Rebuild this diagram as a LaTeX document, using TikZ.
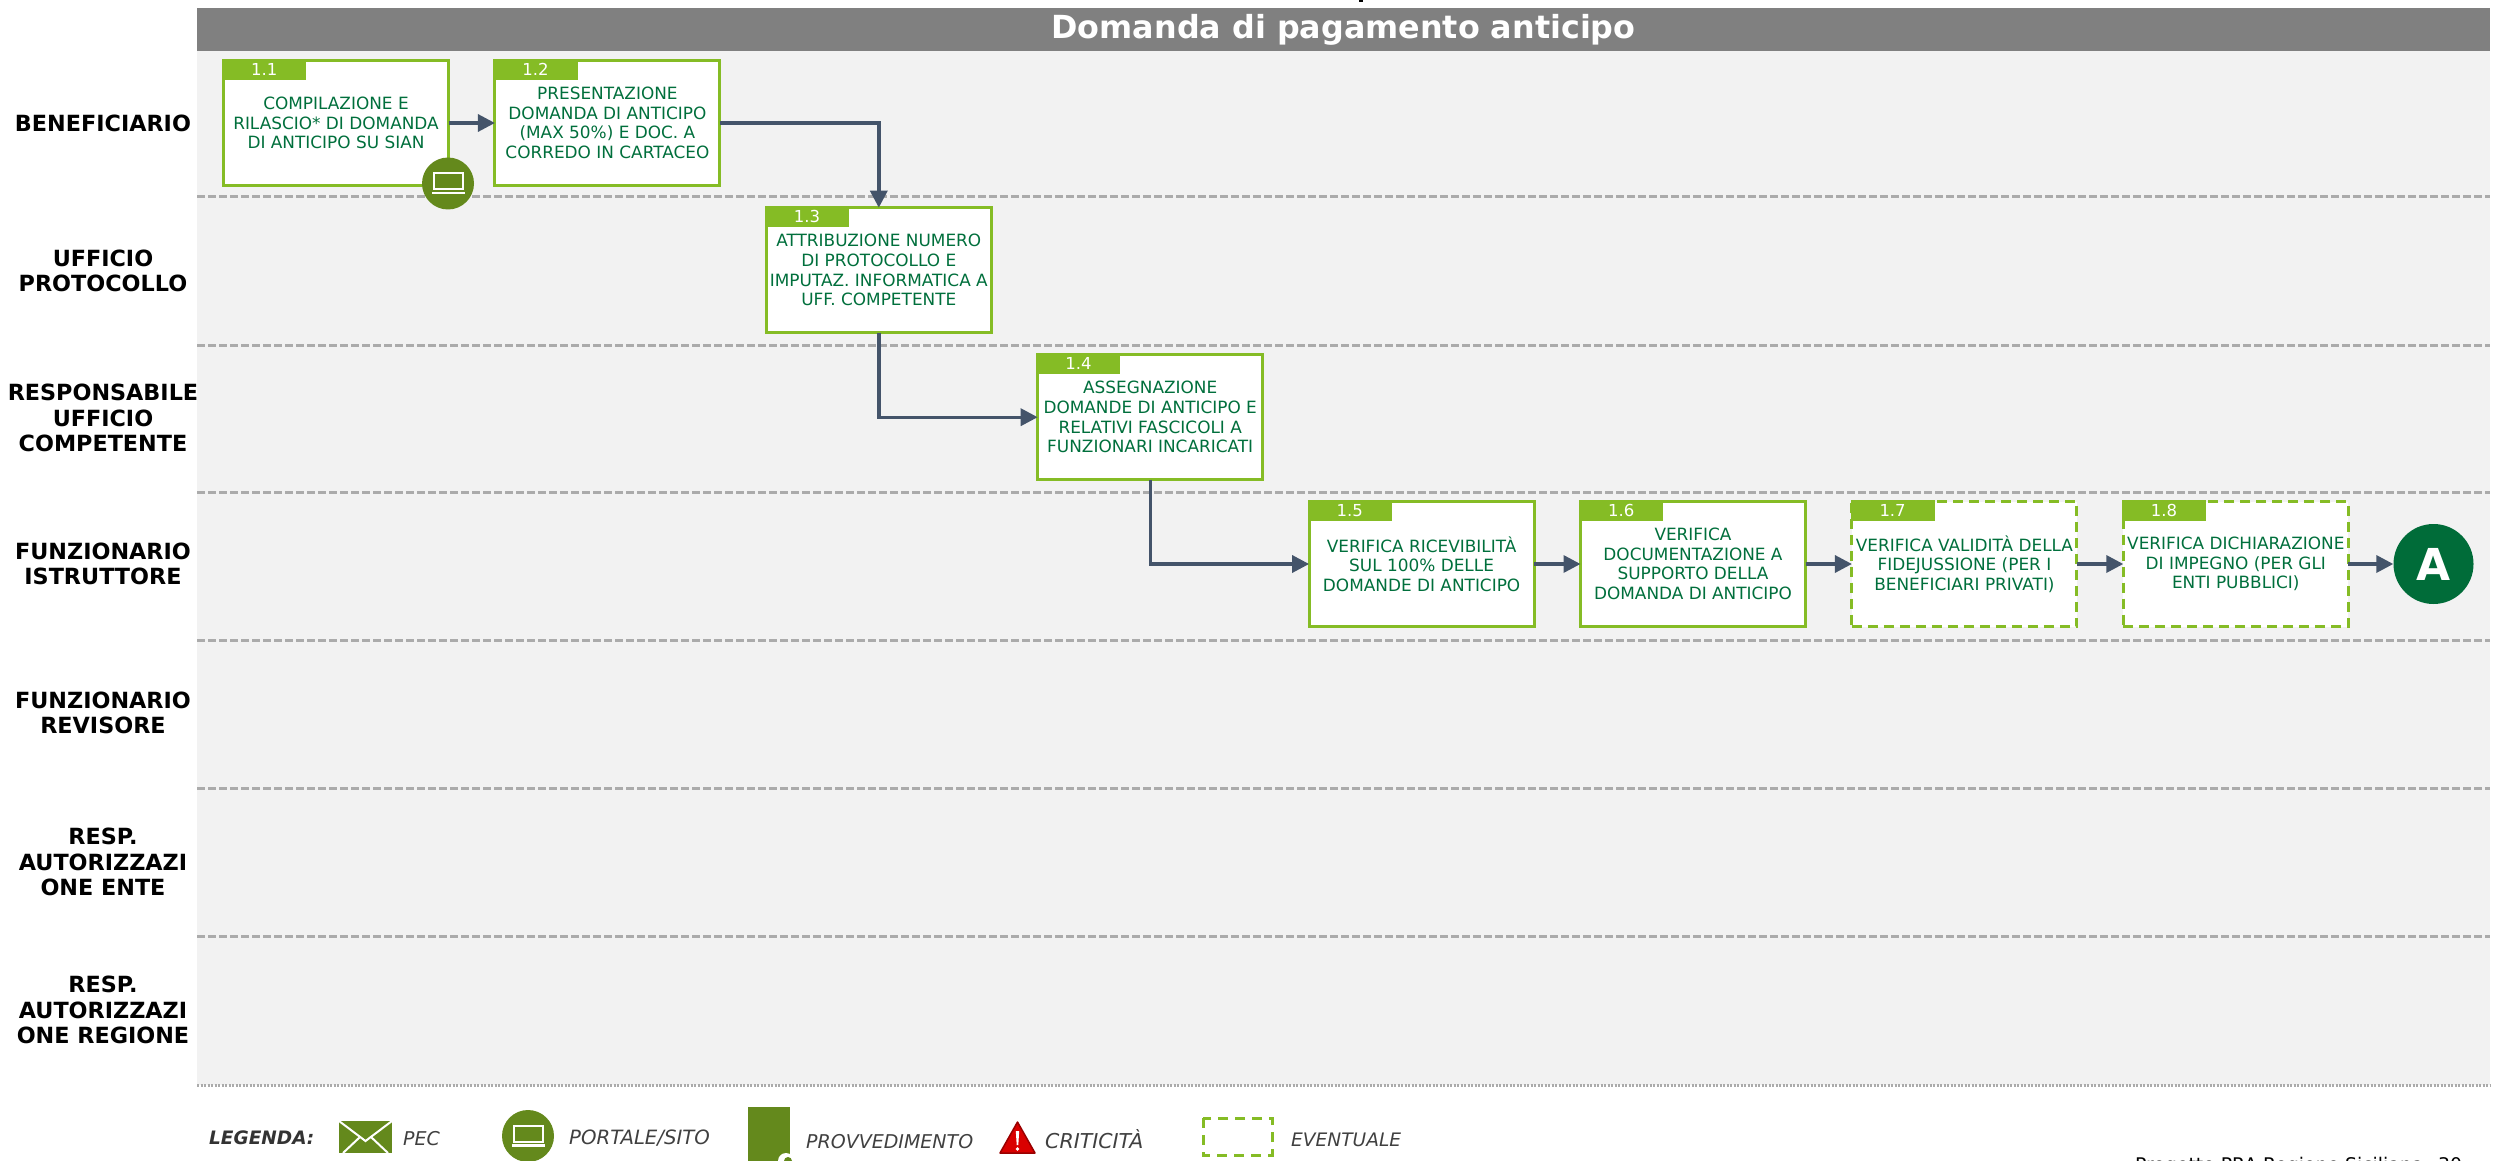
\documentclass[tikz,border=0pt]{standalone}
\usepackage{fontspec}
\setmainfont{DejaVu Sans}
\usetikzlibrary{arrows.meta,positioning,calc}
\definecolor{boxgreen}{HTML}{85BC25}
\definecolor{textgreen}{HTML}{006F3C}
\definecolor{darkgreen}{HTML}{006C39}
\definecolor{badgegreen}{HTML}{64891C}
\definecolor{arrowblue}{HTML}{44546A}
\definecolor{lanegrey}{HTML}{F2F2F2}
\definecolor{dashgrey}{HTML}{ABABAB}
\tikzset{
	step box/.style={
		rectangle, minimum width=225pt, minimum height=125pt, inner sep=0pt, outer sep=0pt,
		line width=3pt, draw=boxgreen, fill=white, text=textgreen, align=center,
		font=\fontsize{16.9}{19.6}\selectfont
	},
	%
	maybe box/.style={
		step box, dash pattern=on 10pt off 6pt
	},
	%
	tagbox/.style={
		rectangle, anchor=north west, minimum width=84pt, minimum height=21pt, inner sep=0pt,
		fill=boxgreen, text=white, font=\fontsize{16.5}{16.5}\selectfont
	},
	%
	lane/.style={
		align=center, inner sep=0pt, font=\fontsize{22.3}{25.4}\selectfont\bfseries
	},
	%
	divider/.style={
		draw=dashgrey, line width=3pt, dash pattern=on 8pt off 3pt
	},
	%
	flow/.style={
		draw=arrowblue, line width=3.4pt, -{Triangle[length=17pt,width=17pt]}
	},
	%
	badge/.style={
		circle, minimum size=52pt, inner sep=0pt, fill=badgegreen
	},
	%
	legendtext/.style={
		anchor=west, inner sep=0pt, text=black!75, font=\fontsize{19}{19}\selectfont\itshape
	},
	%
	laptop/.pic={
		\draw[white, line width=2pt] (-14,-10.5) rectangle (15,5.5);
		\draw[white, line width=2.2pt] (-16,9.5) -- (17,9.5);
	}
}
\begin{document}
\begin{tikzpicture}[x=1pt,y=-1pt]
    \useasboundingbox (0,0) rectangle (2503,1161);
    \clip (0,0) rectangle (2503,1161);
    % lanes
    \fill[lanegrey] (197,51) rectangle (2490,1085);
    \node(title)[rectangle, minimum width=2293pt, minimum height=43pt, inner sep=0pt, fill=black!50, text=white, font=\fontsize{31.8}{31.8}\selectfont\bfseries] at (1343.5,29.5){Domanda di pagamento anticipo};
    \fill[black] (1359,0) rectangle (1363,2);
    \draw[divider] (197,197) -- (2490,197);
    \draw[divider] (197,345) -- (2490,345);
    \draw[divider] (197,492) -- (2490,492);
    \draw[divider] (197,640) -- (2490,640);
    \draw[divider] (197,788) -- (2490,788);
    \draw[divider] (197,936) -- (2490,936);
    \draw[draw=dashgrey, line width=3pt, dash pattern=on 2pt off 1.5pt] (197,1085) -- (2490,1085);
    \node(benef)[lane] at (103,123){BENEFICIARIO};
    \node(proto)[lane] at (103,271){UFFICIO\\ PROTOCOLLO};
    \node(resp)[lane] at (103,418){RESPONSABILE\\ UFFICIO\\ COMPETENTE};
    \node(funz)[lane] at (103,564){FUNZIONARIO\\ ISTRUTTORE};
    \node(rev)[lane] at (103,713){FUNZIONARIO\\ REVISORE};
    \node(autE)[lane] at (103,862){RESP.\\ AUTORIZZAZI\\ ONE ENTE};
    \node(autR)[lane] at (103,1010){RESP.\\ AUTORIZZAZI\\ ONE REGIONE};
    % steps
    \node(comp)[step box] at (336,123){COMPILAZIONE E\\ RILASCIO* DI DOMANDA\\ DI ANTICIPO SU SIAN};
    \node(pres)[step box, right=46.4pt of comp]{PRESENTAZIONE\\ DOMANDA DI ANTICIPO\\ (MAX 50\%) E DOC. A\\ CORREDO IN CARTACEO};
    \node(attr)[step box, below right=22.2pt and 46.4pt of pres]{ATTRIBUZIONE NUMERO\\ DI PROTOCOLLO E\\ IMPUTAZ. INFORMATICA A\\ UFF. COMPETENTE};
    \node(asse)[step box, below right=22pt and 46.4pt of attr]{ASSEGNAZIONE\\ DOMANDE DI ANTICIPO E\\ RELATIVI FASCICOLI A\\ FUNZIONARI INCARICATI};
    \node(rice)[step box, below right=21.8pt and 46.4pt of asse]{VERIFICA RICEVIBILITÀ\\ SUL 100\% DELLE\\ DOMANDE DI ANTICIPO};
    \node(docu)[step box, right=46.4pt of rice]{VERIFICA\\ DOCUMENTAZIONE A\\ SUPPORTO DELLA\\ DOMANDA DI ANTICIPO};
    \node(fide)[maybe box, right=46.4pt of docu]{VERIFICA VALIDITÀ DELLA\\ FIDEJUSSIONE (PER I\\ BENEFICIARI PRIVATI)};
    \node(impe)[maybe box, right=46.4pt of fide]{VERIFICA DICHIARAZIONE\\ DI IMPEGNO (PER GLI\\ ENTI PUBBLICI)};
    \node(endA)[circle, minimum size=80pt, inner sep=0pt, fill=darkgreen, text=white, font=\fontsize{44}{44}\selectfont\bfseries, right=45pt of impe]{A};
    % tags
    \node(tag1)[tagbox] at ([shift={(-1.5pt,1.5pt)}]comp.north west){1.1};
    \node(tag2)[tagbox] at ([shift={(-1.5pt,1.5pt)}]pres.north west){1.2};
    \node(tag3)[tagbox] at ([shift={(-1.5pt,1.5pt)}]attr.north west){1.3};
    \node(tag4)[tagbox] at ([shift={(-1.5pt,1.5pt)}]asse.north west){1.4};
    \node(tag5)[tagbox] at ([shift={(-1.5pt,1.5pt)}]rice.north west){1.5};
    \node(tag6)[tagbox] at ([shift={(-1.5pt,1.5pt)}]docu.north west){1.6};
    \node(tag7)[tagbox] at ([shift={(-1.5pt,1.5pt)}]fide.north west){1.7};
    \node(tag8)[tagbox] at ([shift={(-1.5pt,1.5pt)}]impe.north west){1.8};
    % connectors
    \draw[flow] (comp) -- (pres);
    \draw[flow] (pres) -| (attr);
    \draw[flow] (attr) |- (asse);
    \draw[flow] (asse) |- (rice);
    \draw[flow] (rice) -- (docu);
    \draw[flow] (docu) -- (fide);
    \draw[flow] (fide) -- (impe);
    \draw[flow] (impe) -- (endA);
    \node(lap)[badge] at (448,183.5){};
    \pic at (lap) {laptop};
    % legend
    \node(leg)[legendtext, text=black!80, font=\fontsize{18.5}{18.5}\selectfont\bfseries\itshape] at (209,1138){LEGENDA:};
    \fill[badgegreen] (339,1121) rectangle (392,1153);
    \draw[white, line width=2pt] (339,1121) -- (365.5,1141) -- (392,1121);
    \draw[white, line width=2pt] (343,1153) -- (360,1137);
    \draw[white, line width=2pt] (388,1153) -- (371,1137);
    \node(pec)[legendtext] at (403,1139){PEC};
    \node(por)[badge] at (528,1136){};
    \pic at (por) {laptop};
    \node(sito)[legendtext, font=\fontsize{19.7}{19.7}\selectfont\itshape] at (569,1138){PORTALE/SITO};
    \fill[badgegreen] (748,1107) rectangle (790,1165);
    \fill[white] (786,1161) circle (8);
    \fill[badgegreen] (788,1161) circle (4);
    \node(prov)[legendtext] at (806,1142){PROVVEDIMENTO};
    \draw[draw=red!60!black, fill=red!85!black, line width=1.5pt, line join=round] (1017.5,1122) -- (1035,1153) -- (1000,1153) -- cycle;
    \fill[white] (1015.8,1131) -- (1019.2,1131) -- (1018.3,1145) -- (1016.7,1145) -- cycle;
    \fill[white] (1017.5,1149) circle (1.8);
    \node(crit)[legendtext, font=\fontsize{20.5}{20.5}\selectfont\itshape] at (1045,1139){CRITICITÀ};
    \draw[draw=boxgreen, line width=3pt, dash pattern=on 10pt off 7pt] (1203,1118) rectangle (1272,1155);
    \node(even)[legendtext, font=\fontsize{18.6}{18.6}\selectfont\itshape] at (1291,1140){EVENTUALE};
    % footer
    \node(foot)[anchor=base west, inner sep=0pt, font=\fontsize{18.8}{18.8}\selectfont] at (2135,1171){Progetto PRA Regione Siciliana};
    \node(page)[anchor=base west, inner sep=0pt, font=\fontsize{18.8}{18.8}\selectfont] at (2438,1171){30};
\end{tikzpicture}
\end{document}
